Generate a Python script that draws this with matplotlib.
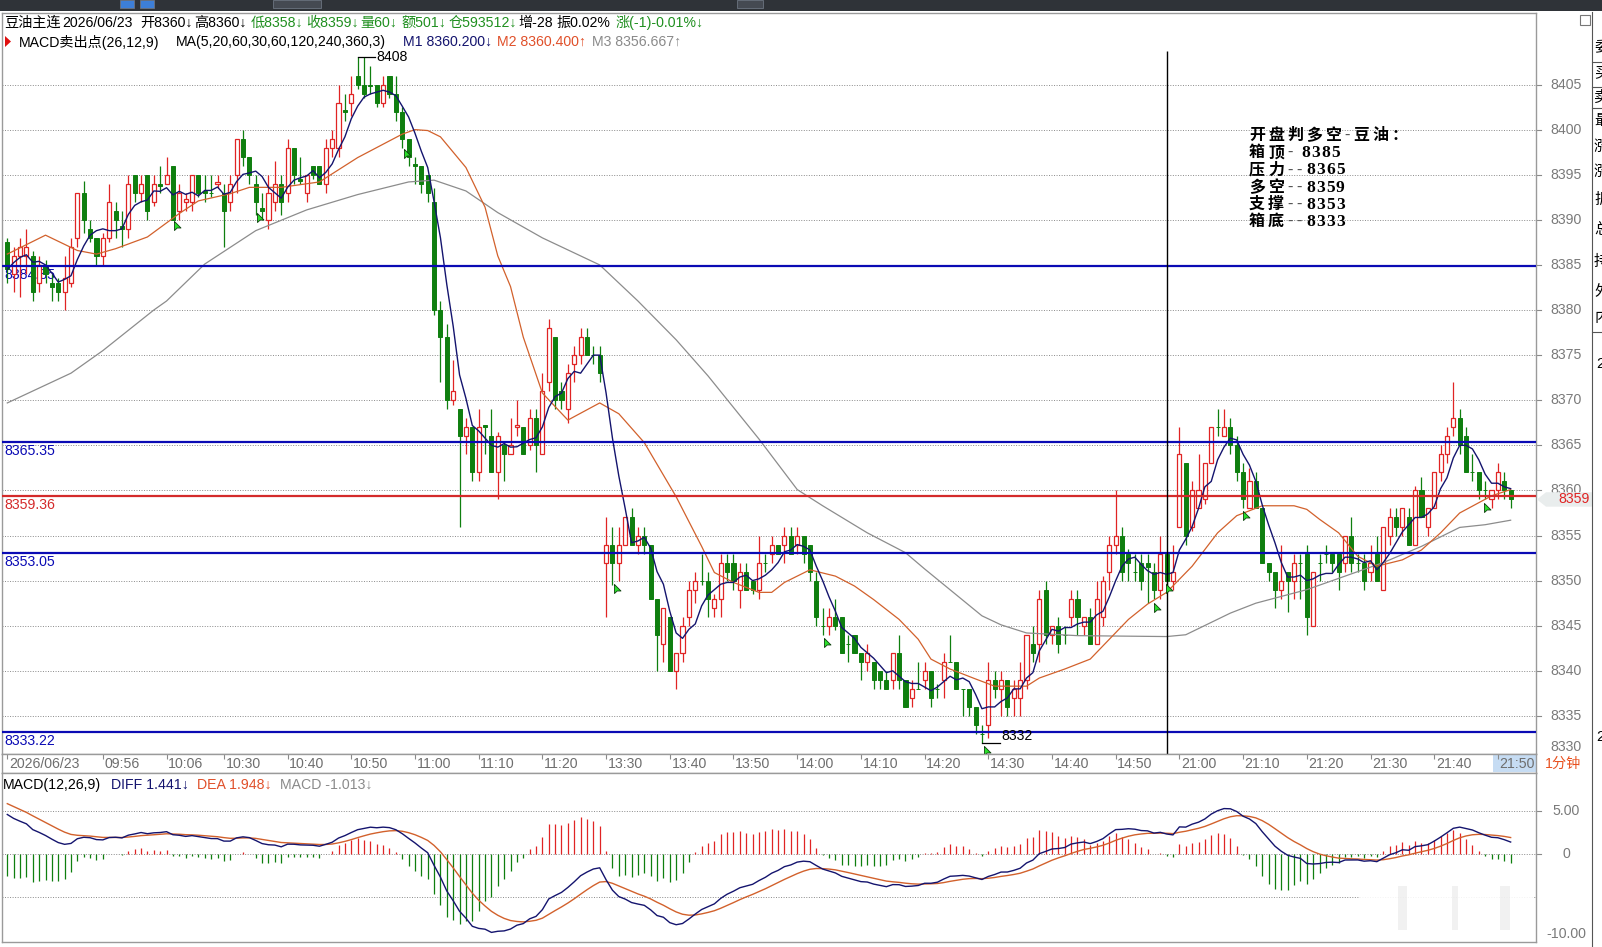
import numpy as np
import pandas as pd
import matplotlib
matplotlib.use("Agg")
import matplotlib.pyplot as plt
from matplotlib.patches import Rectangle, Polygon
from matplotlib.transforms import Affine2D, blended_transform_factory

plt.rcParams['font.family'] = ['Liberation Sans', 'Noto Sans CJK SC', 'DejaVu Sans']

# 1-minute bars
opens = [
    8387.5, 8384, 8386, 8386, 8386, 8383, 8385, 8383, 8383, 8382,
    8383, 8388, 8393, 8389, 8388, 8386, 8388, 8391, 8389.3, 8389,
    8395, 8393, 8395, 8392, 8394, 8394, 8396, 8391, 8392, 8392,
    8395, 8393.2, 8393, 8394, 8393, 8392, 8395, 8399, 8397, 8394,
    8391.3, 8390, 8392, 8394, 8393, 8398, 8394.5, 8393, 8396, 8396,
    8394, 8398, 8398, 8402.2, 8403, 8406, 8405, 8405, 8405, 8403,
    8406, 8404, 8402, 8399, 8396.2, 8396, 8395, 8392, 8380, 8377,
    8370, 8369, 8366, 8367, 8362, 8367.2, 8366, 8362,
    8365, 8364, 8367, 8367, 8365, 8368, 8364, 8372, 8377, 8371,
    8369, 8374, 8375, 8377, 8375, 8375, 8352, 8354, 8352, 8354,
    8357, 8354, 8355, 8354, 8348, 8343, 8346, 8340, 8342, 8346,
    8349, 8350, 8350, 8347, 8348, 8352, 8352, 8349, 8351, 8350,
    8349, 8352, 8353, 8354, 8354, 8355, 8354, 8355, 8354, 8350,
    8345, 8345, 8346, 8346, 8343, 8344, 8342, 8341, 8341, 8340,
    8339, 8339, 8342, 8339, 8337, 8338, 8339, 8340, 8338, 8339,
    8341, 8341, 8338, 8338, 8336, 8333, 8334, 8339,
    8338, 8339, 8337, 8337, 8339, 8343, 8343, 8349, 8344, 8345,
    8344, 8346, 8348, 8345, 8346, 8343, 8346, 8351, 8354, 8355,
    8353, 8351, 8352, 8352, 8351, 8349, 8353, 8350, 8356, 8363,
    8356, 8358, 8359, 8363, 8367, 8366, 8367, 8365, 8362, 8358,
    8361, 8358, 8352, 8351, 8349, 8351, 8350, 8352, 8353, 8345,
    8352, 8353, 8353, 8353, 8352, 8355, 8352, 8352, 8351, 8353,
    8349, 8355, 8357, 8356, 8357, 8354, 8360, 8356, 8358, 8362,
    8364, 8367, 8368, 8366, 8362, 8362, 8360, 8359, 8360, 8361,
    8360]
highs = [
    8388, 8387, 8388, 8389, 8386.5, 8386, 8385.5, 8384, 8383.5, 8386,
    8388, 8393, 8394.3, 8390, 8388, 8388.5, 8394, 8392, 8391, 8395,
    8395, 8395, 8395, 8395, 8396, 8397, 8396, 8394, 8393, 8395,
    8395, 8395, 8395, 8395, 8394, 8395, 8399, 8400, 8397, 8395,
    8393, 8395, 8396.5, 8395, 8399, 8398, 8397, 8395, 8396, 8396,
    8399, 8400, 8405, 8404, 8406, 8408, 8408, 8407, 8405, 8406,
    8406, 8406, 8402.5, 8399, 8397, 8396, 8395, 8393.5, 8381, 8378.5,
    8374.5, 8369, 8368, 8367, 8369, 8367.3, 8369, 8366.5,
    8365.5, 8368, 8370, 8367, 8369, 8369, 8373, 8379, 8377, 8372,
    8374, 8376, 8378, 8378, 8376, 8376, 8357, 8356, 8356, 8357,
    8358, 8356, 8356, 8354, 8348, 8347, 8346, 8342, 8346, 8350,
    8351, 8353, 8351, 8348.5, 8353, 8353, 8353, 8352, 8352, 8350,
    8355, 8353, 8355, 8354, 8356, 8356, 8356, 8355, 8354, 8351,
    8347, 8347, 8348, 8346, 8344, 8344, 8342, 8343, 8341, 8340,
    8340, 8342, 8344, 8339, 8339, 8341, 8341, 8340, 8338.5, 8342,
    8344, 8341, 8338, 8338, 8336, 8334, 8341, 8340,
    8340, 8339, 8339, 8341, 8344, 8345, 8349, 8350, 8345, 8346,
    8345, 8349, 8349, 8346, 8347, 8350, 8350.5, 8355, 8360, 8356,
    8353.5, 8353, 8353, 8353, 8352, 8355, 8353, 8354, 8367, 8363,
    8361, 8364, 8363, 8367, 8369, 8369, 8368, 8366, 8363, 8362.5,
    8362, 8358, 8352, 8351, 8354, 8351, 8353, 8353, 8354, 8351,
    8353, 8354, 8353, 8353, 8355, 8357, 8353, 8353, 8354, 8355,
    8356, 8358, 8358, 8358, 8358, 8360.5, 8361.5, 8358, 8362, 8365,
    8367, 8372, 8369, 8367, 8364, 8362, 8361, 8360, 8363, 8362,
    8360]
lows = [
    8383, 8382, 8381.5, 8384, 8381, 8382, 8383, 8381, 8381, 8380,
    8382.5, 8387, 8388.5, 8387.5, 8385, 8385, 8387.5, 8388, 8387, 8388,
    8392, 8392, 8390, 8391.5, 8393, 8394, 8390, 8390, 8391, 8391,
    8392.5, 8392, 8392.5, 8393.5, 8387, 8391, 8393, 8396, 8394, 8390.5,
    8390, 8389, 8391, 8390.5, 8392, 8394, 8394, 8392, 8394.5, 8394,
    8393, 8397, 8397, 8401, 8401.5, 8404.5, 8403.5, 8404, 8402.5, 8402.5,
    8403.5, 8401, 8398, 8396, 8394, 8393, 8392, 8379.5, 8372, 8369,
    8369.5, 8356, 8364, 8361, 8361, 8364, 8362, 8359,
    8361, 8364, 8366, 8364, 8364.5, 8362, 8364, 8371, 8369, 8369,
    8367.5, 8372, 8374, 8375, 8374, 8372, 8346, 8349.5, 8350, 8354,
    8354, 8353, 8353, 8348, 8340, 8341, 8340, 8338, 8341, 8345,
    8347.5, 8349.5, 8346, 8346, 8346, 8350, 8349, 8347, 8349, 8348.5,
    8348, 8351, 8352, 8353, 8352, 8353, 8353, 8352, 8350, 8345,
    8344, 8344, 8344.5, 8342, 8341, 8342, 8339, 8340, 8338, 8338,
    8338, 8338, 8338, 8336, 8336, 8338, 8338, 8336, 8337, 8337,
    8341, 8338, 8335, 8335, 8333, 8332, 8332.5, 8337,
    8335, 8335, 8335, 8335, 8338, 8341, 8341, 8343, 8343, 8342,
    8343, 8345, 8344, 8344, 8343, 8343, 8345, 8349, 8353, 8350,
    8350, 8350, 8349, 8347.5, 8348, 8348, 8349, 8349, 8356, 8354,
    8355.5, 8358, 8358.5, 8363, 8366, 8366, 8364, 8361, 8358, 8358,
    8358, 8352, 8350, 8347, 8348, 8346.5, 8348, 8348, 8344, 8345,
    8350, 8352, 8351, 8349, 8351, 8351, 8351, 8349, 8350, 8350,
    8349, 8354, 8355, 8355, 8354, 8354, 8357, 8355, 8358, 8361,
    8363, 8366, 8364, 8362, 8361, 8359, 8359, 8358, 8359, 8359,
    8358]
closes = [
    8384.5, 8386, 8387, 8387, 8382, 8385, 8384, 8382.5, 8382, 8383.5,
    8387, 8393, 8390, 8388, 8386, 8388, 8392, 8390, 8389, 8394,
    8393, 8394, 8391, 8394, 8393.8, 8395, 8390, 8393, 8392.3, 8395,
    8393, 8393, 8393, 8394.2, 8391, 8394, 8399, 8397, 8395, 8392,
    8391, 8393, 8394, 8392, 8398, 8395, 8394.3, 8395, 8395, 8394,
    8398, 8399, 8403, 8402, 8404, 8405, 8404, 8404.8, 8403, 8405,
    8404, 8402, 8399, 8397, 8396, 8394, 8393, 8380, 8377, 8370,
    8371, 8366, 8367, 8362, 8367, 8367, 8362, 8366,
    8364, 8365, 8367.2, 8364, 8368, 8365, 8371, 8378, 8370, 8370,
    8373, 8375, 8377, 8375, 8375, 8373, 8354, 8352, 8354, 8357,
    8354, 8355, 8354, 8348, 8344, 8347, 8340, 8342, 8345, 8349,
    8350, 8350, 8348, 8348, 8352, 8351, 8350, 8351, 8349, 8349,
    8352, 8352, 8354, 8353, 8355, 8353, 8355, 8353, 8351, 8346,
    8345, 8346, 8345, 8342, 8343, 8342, 8341, 8342, 8339, 8339,
    8338, 8342, 8339, 8336, 8338, 8338, 8340, 8337, 8338, 8341,
    8341, 8338, 8338, 8336, 8334, 8333, 8339, 8338,
    8339, 8336, 8338, 8339, 8344, 8342, 8348, 8344, 8345, 8343,
    8344, 8348, 8346, 8346, 8343, 8348, 8350, 8354, 8355, 8351,
    8352, 8351, 8350, 8351.5, 8349, 8353, 8350, 8351, 8364, 8355,
    8360, 8360, 8363, 8367, 8367, 8367, 8365, 8362, 8359, 8361,
    8358, 8352, 8351, 8349, 8350, 8350, 8352, 8352, 8346, 8351,
    8352, 8353, 8352, 8351, 8355, 8352, 8352, 8350, 8352, 8350,
    8356, 8357, 8356, 8358, 8354, 8360, 8357, 8358, 8362, 8364,
    8366, 8368, 8365, 8362, 8362, 8360, 8360, 8360, 8362, 8360,
    8359]

# M2 (orange) and M3 (grey) read at points along the lines
m2_bar = [0, 6, 11, 14, 17, 22, 27, 30, 35, 38, 43, 49, 51, 55, 62, 64, 66, 68, 72, 75,
          77, 79, 81, 84, 88, 93, 96, 100, 105, 109, 111, 114, 118, 120, 122, 126, 130, 133, 136, 140,
          143, 145, 148, 152, 155, 160, 162, 166, 170, 173, 176, 179, 182, 186, 190, 193, 197, 202, 204, 206,
          209, 212, 215, 219, 222, 225, 228, 233, 236]
m2_val = [8386.2, 8388.3, 8386.6, 8386.2, 8386.8, 8388.1, 8390.7, 8392.1, 8392.9, 8393.6,
          8393.6, 8394.2, 8395.1, 8396.9, 8399.5, 8400, 8399.9, 8399.2, 8395.8, 8391.4,
          8386, 8382.6, 8377, 8370.8, 8367.8, 8369.7, 8368.5, 8365.3, 8359.3, 8353.8,
          8350.9, 8349.8, 8348.7, 8348.7, 8349.8, 8351.2, 8350.5, 8349.4, 8347.9, 8345.7,
          8343.5, 8341.3, 8340.2, 8339.1, 8338.3, 8338.3, 8339.2, 8340.2, 8341.3, 8343.5,
          8345.7, 8347.4, 8348.7, 8351.6, 8355.3, 8357.2, 8358.3, 8358.3, 8357.9, 8356.8,
          8355.3, 8352.7, 8351.6, 8352.3, 8353.4, 8355.3, 8357.5, 8359.4, 8360.1]
m3_bar = [0, 10, 15, 23, 25, 31, 39, 47, 55, 63, 67, 72, 77, 84, 93, 99, 105, 110, 118, 124,
          128, 135, 141, 144, 153, 156, 160, 168, 182, 185, 192, 196, 204, 210, 216, 222, 228, 232, 236]
m3_val = [8369.7, 8373, 8375.5, 8380, 8381, 8385.1, 8388.8, 8391.1, 8392.8, 8394.2, 8394.4, 8393.2,
          8390.8, 8388, 8385, 8381, 8376.7, 8372.7, 8365.7, 8360.1, 8358.3, 8355.3, 8353.1, 8351.3,
          8346.1, 8345.1, 8344.2, 8343.9, 8343.8, 8344, 8346.4, 8347.5, 8349, 8350.5, 8352, 8353.8,
          8355.9, 8356.2, 8356.7]

levels = [8384.85, 8365.35, 8359.36, 8353.05, 8333.22]
level_colors = ["#0a0ab4", "#0a0ab4", "#d42a2a", "#0a0ab4", "#0a0ab4"]

# MACD sell-point arrows
sig_bar = [26.2, 39.2, 62.3, 95.3, 128.2, 153.3, 180.0, 181.9, 194.0, 231.8]
sig_val = [8389.9, 8390.8, 8397.8, 8349.6, 8343.6, 8331.7, 8347.5, 8349.6, 8357.7, 8358.6]

cursor_bar = 182
cursor_top = 8408.7

tick_bars = [0, 15, 25, 34, 44, 54, 64, 74, 84, 94, 104, 114, 124, 134, 144, 154,
             164, 174, 184, 194, 204, 214, 224, 234]
tick_labels = ["2026/06/23", "09:56", "10:06", "10:30", "10:40", "10:50", "11:00", "11:10",
               "11:20", "13:30", "13:40", "13:50", "14:00", "14:10", "14:20", "14:30",
               "14:40", "14:50", "21:00", "21:10", "21:20", "21:30", "21:40", "21:50"]
price_ticks = list(range(8335, 8406, 5))

ema12_start = 8388.0
ema26_start = 8382.7
dea_start = 6.2

note_lines = ["开盘判多空-豆油：", "箱顶- 8385", "压力--8365", "多空--8359", "支撑--8353", "箱底--8333"]

RED = "#e02424"
GREEN = "#0f7f0f"
NAVY = "#14146e"
ORANGE = "#d2612c"
GRAY = "#8c8c8c"
HGREEN = "#1f8f1f"
W, H = 1602, 947
FS = 10.2

fig = plt.figure(figsize=(W / 100, H / 100), dpi=100)
pix = Affine2D().scale(1 / W, -1 / H).translate(0, 1) + fig.transFigure


def box(x0, y0, x1, y1):
    return [x0 / W, 1 - y1 / H, (x1 - x0) / W, (y1 - y0) / H]


ax = fig.add_axes(box(2, 13, 1536, 754))
tax = fig.add_axes(box(2, 754, 1536, 773))
mx = fig.add_axes(box(2, 773, 1536, 942))
for a in (ax, tax, mx):
    a.set_xlim(-0.83, 239.98)
    a.set_xticks([])
    a.set_yticks([])
    for s in a.spines.values():
        s.set_color("#9a9a9a")
        s.set_linewidth(1)
ax.set_ylim(8330.78, 8412.93)
mx.set_ylim(-10.2, 9.45)
tax.set_ylim(0, 1)

o = np.array(opens)
h = np.array(highs)
l = np.array(lows)
c = np.array(closes)
n = len(c)
x = np.arange(n)
up = c > o

dots = (0, (1, 1.6))
for p in price_ticks:
    ax.axhline(p, color="#8a8a8a", lw=0.7, ls=dots, zorder=1)

# candles
ax.vlines(x, l, h, colors=np.where(up, RED, GREEN), lw=0.9, zorder=2)
ax.bar(x[up], (c - o)[up], bottom=o[up], width=0.64, facecolor="white",
       edgecolor=RED, lw=0.9, zorder=3)
ax.bar(x[~up], (o - c)[~up], bottom=c[~up], width=0.64, facecolor=GREEN,
       edgecolor=GREEN, lw=0.7, zorder=3)

# moving averages
m1 = pd.Series(c).rolling(5, min_periods=1).mean()
ax.plot(m3_bar, m3_val, color=GRAY, lw=0.9, zorder=4)
ax.plot(m2_bar, m2_val, color=ORANGE, lw=0.9, zorder=4)
ax.plot(x, m1, color=NAVY, lw=1.0, zorder=4)

ytr = blended_transform_factory(ax.transAxes, ax.transData)
for v, col in zip(levels, level_colors):
    ax.axhline(v, color=col, lw=1.6, zorder=5)
    ax.text(0.0015, v - 1.0, f"{v:.2f}", transform=ytr, color=col, fontsize=FS,
            va="center", ha="left", zorder=1.5)

ax.vlines(cursor_bar, 8330.78, cursor_top, color="black", lw=1, zorder=5)

hi_i = int(np.argmax(h))
lo_i = int(np.argmin(l))
ax.plot([hi_i, hi_i + 2.8], [h[hi_i]] * 2, color="black", lw=0.9, zorder=5)
ax.text(hi_i + 2.9, h[hi_i], f"{h[hi_i]:.0f}", fontsize=FS, va="center", ha="left", zorder=6)
ax.plot([lo_i, lo_i + 2.8], [l[lo_i]] * 2, color="black", lw=0.9, zorder=5)
ax.text(lo_i + 3.0, l[lo_i], f"{l[lo_i]:.0f}", fontsize=FS, va="bottom", ha="left", zorder=6)

arrow = [(0, 0), (0, -1), (0.3, -0.72), (0.72, -0.72), (0, 0)]
ax.plot(sig_bar, sig_val, ls="none", marker=arrow, ms=13, mfc="#2be02b",
        mec="#0b3d0b", mew=0.6, zorder=7)

# right price scale
xr = (1566 - 2) / 1534
for p in price_ticks:
    ax.plot([1.0, 1.0035], [p, p], transform=ytr, clip_on=False, color="#8a8a8a", lw=0.8)
    ax.text(xr, p, str(p), transform=ytr, fontsize=FS, color="#7a7a7a", ha="center", va="center")
ax.text(xr, 8331.55, "8330", transform=ytr, fontsize=FS, color="#7a7a7a", ha="center", va="center")
last = c[-1]
ax.add_patch(Polygon([(1.0006, last), (1.0065, last - 0.8), (1.0365, last - 0.8),
                      (1.0365, last + 0.8), (1.0065, last + 0.8)], closed=True,
                     transform=ytr, clip_on=False, facecolor="#e9eded", edgecolor="none", zorder=8))
ax.text((1574 - 2) / 1534, last, f"{last:.0f}", transform=ytr, fontsize=FS, color=RED,
        ha="center", va="center", zorder=9)

# opening note
adv = {"-": 9.5, " ": 5}
for k, line in enumerate(note_lines):
    xp = 1249
    yp = 136 + k * 17.2
    for ch in line:
        if ch != " ":
            fig.text(xp, yp, ch, transform=pix, fontsize=12.5 if ch.isdigit() else 11.5,
                     fontweight="bold", family=["Liberation Serif", "Noto Sans CJK SC"],
                     color="#555555" if ch == "-" else "black", va="center", ha="left")
        xp += adv.get(ch, 10 if ch.isdigit() else 19)

# time axis band
tax.vlines(tick_bars, 0.72, 1.0, color="#8a8a8a", lw=0.8)
tax.add_patch(Rectangle((233.3, 0.06), 7, 0.88, facecolor="#c6dcf3", edgecolor="none"))
for tb, tl in zip(tick_bars, tick_labels):
    tax.text(tb + 0.25, 0.47, tl, fontsize=FS, color="#6e6e6e", ha="left", va="center")
fig.text(1545, 764, "1分钟", transform=pix, fontsize=FS, color="#e8501e", va="center", ha="left")

# MACD panel
e12, e26, d = ema12_start, ema26_start, dea_start
diff, dea = [], []
for v in c:
    e12 += (v - e12) * 2 / 13
    e26 += (v - e26) * 2 / 27
    d += ((e12 - e26) - d) * 2 / 10
    diff.append(e12 - e26)
    dea.append(d)
diff = np.array(diff)
dea = np.array(dea)
hist = 2 * (diff - dea)
for v in (5, 0, -5):
    mx.axhline(v, color="#8a8a8a", lw=0.7, ls=dots, zorder=1)
mx.vlines(x, 0, hist, colors=np.where(hist >= 0, RED, GREEN), lw=0.9, zorder=2)
mx.plot(x, dea, color=ORANGE, lw=1.0, zorder=3)
mx.plot(x, diff, color=NAVY, lw=1.0, zorder=3)

# faint watermark over the MACD corner (inside the plot only)
fig.add_artist(Rectangle((1360, 880), 174, 56, transform=pix, facecolor="white",
                         edgecolor="none", alpha=0.9, zorder=4))
for wx, ww in ((1398, 9), (1452, 6), (1500, 10)):
    fig.add_artist(Rectangle((wx, 886), ww, 44, transform=pix, facecolor="#e4e4e4",
                             edgecolor="none", alpha=0.5, zorder=4))

mtr = blended_transform_factory(mx.transAxes, mx.transData)
for v, s in ((5, "5.00"), (0, "0"), (-9.27, "-10.00")):
    mx.text(xr, v, s, transform=mtr, fontsize=FS, color="#7a7a7a", ha="center", va="center",
            zorder=10)
    if v != -9.27:
        mx.plot([1.0, 1.0035], [v, v], transform=mtr, clip_on=False, color="#8a8a8a", lw=0.8)

# header lines
head1 = [("豆油主连", 4, "black"), ("2026/06/23", 62, "black"), ("开8360↓", 140, "black"),
         ("高8360↓", 194, "black"), ("低8358↓", 251, HGREEN), ("收8359↓", 306, HGREEN),
         ("量60↓", 360, HGREEN), ("额501↓", 401, HGREEN), ("仓593512↓", 449, HGREEN),
         ("增-28", 518, "black"), ("振0.02%", 556, "black"), ("涨(-1)-0.01%↓", 616, HGREEN)]
head2 = [("MACD卖出点(26,12,9)", 19, "black"), ("MA(5,20,60,30,60,120,240,360,3)", 176, "black"),
         ("M1 8360.200↓", 403, NAVY), ("M2 8360.400↑", 497, "#e0502a"), ("M3 8356.667↑", 592, "#8a8a8a")]
for s, xp, col in head1:
    fig.text(xp, 23, s, transform=pix, fontsize=FS, color=col, va="center", ha="left")
for s, xp, col in head2:
    fig.text(xp, 42, s, transform=pix, fontsize=FS, color=col, va="center", ha="left")
fig.add_artist(Polygon([(5, 36), (5, 47), (11, 41.5)], closed=True, transform=pix,
                       facecolor="#e01010", edgecolor="none"))
macd_head = [("MACD(12,26,9)", 3, "black"), ("DIFF 1.441↓", 111, NAVY),
             ("DEA 1.948↓", 197, "#e0502a"), ("MACD -1.013↓", 280, "#8a8a8a")]
for s, xp, col in macd_head:
    fig.text(xp, 785, s, transform=pix, fontsize=FS, color=col, va="center", ha="left")

# toolbar strip and side panel edge
fig.add_artist(Rectangle((0, 0), W, 11, transform=pix, facecolor="#2f3338", edgecolor="none"))
for bx, bw, col in ((120, 14, "#3d7fd8"), (140, 14, "#3d7fd8"), (273, 48, "#454a52"),
                    (737, 26, "#454a52")):
    fig.add_artist(Rectangle((bx, 0), bw, 8, transform=pix, facecolor=col, edgecolor="#6c7480", lw=0.6))
fig.add_artist(Rectangle((1580, 15), 10, 10, transform=pix, facecolor="none", edgecolor="#777777", lw=0.8))
fig.add_artist(plt.Line2D([1592, 1592], [12, 947], transform=pix, color="#555555", lw=0.8))
for yy in (62, 87, 108, 332):
    fig.add_artist(plt.Line2D([1592, 1602], [yy, yy], transform=pix, color="#555555", lw=0.8))
side = ["委", "买", "卖", "最", "涨", "涨", "振", "总", "持", "外", "内"]
side_y = [48, 73, 98, 121, 147, 172, 200, 230, 262, 292, 318]
for ch, yy in zip(side, side_y):
    fig.text(1594, yy, ch, transform=pix, fontsize=11, color="black", va="center", ha="left")
fig.text(1596, 364, "2", transform=pix, fontsize=11, color="black", va="center", ha="left")
fig.text(1596, 737, "2", transform=pix, fontsize=11, color="black", va="center", ha="left")

fig.savefig("out.png", dpi=100, facecolor="white")
